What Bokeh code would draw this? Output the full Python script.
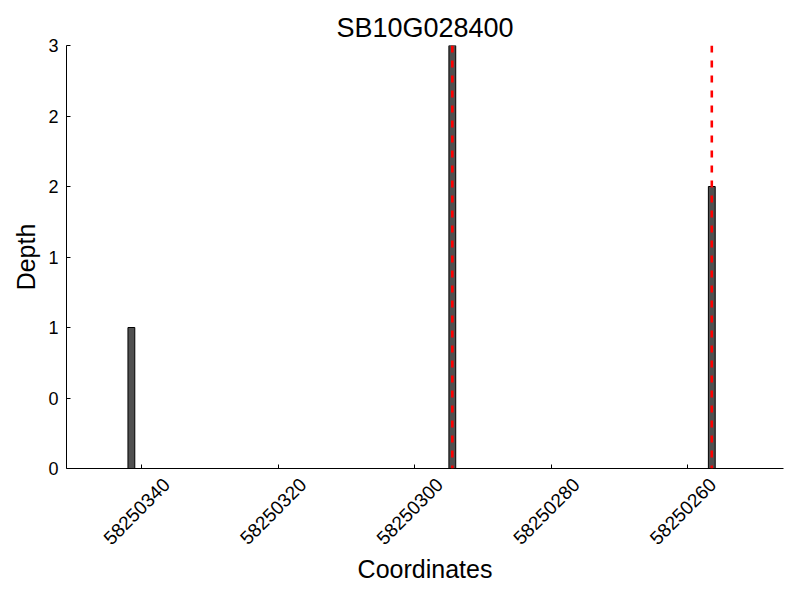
import math
from bokeh.plotting import figure
from bokeh.models import Range1d, FixedTicker, Span, LinearAxis
from bokeh.embed import file_html
from bokeh.resources import INLINE

# ---- data ----
title_text = "SB10G028400"
bar_starts = [58250341, 58250294, 58250256]
depths = [1, 3, 2]
snp_starts = [58250294, 58250256]
x_ticks = [58250340, 58250320, 58250300, 58250280, 58250260]
x_tick_labels = ["58250340", "58250320", "58250300", "58250280", "58250260"]
y_ticks = [0, 0.5, 1, 1.5, 2, 2.5, 3]
y_tick_labels = ["0", "0", "1", "1", "2", "2", "3"]
x_start, x_end = 58250351, 58250246
y_start, y_end = 0, 3
bar_width = 1

FONT = "Liberation Sans"
label_shift = 3.66  # horizontal shift (data units) of the rotated tick labels

p = figure(width=800, height=600, output_backend="svg", toolbar_location=None,
           x_range=Range1d(x_start, x_end), y_range=Range1d(y_start, y_end),
           min_border_left=66, min_border_right=17, min_border_top=45,
           min_border_bottom=132, title=title_text)

p.title.text_font = FONT
p.title.text_font_size = "27px"
p.title.text_font_style = "normal"
p.title.text_color = "black"
p.title.align = "center"
p.title.standoff = 6

p.outline_line_color = None
p.xgrid.visible = False
p.ygrid.visible = False
p.background_fill_color = "white"
p.border_fill_color = "white"

centers = [s + bar_width / 2 for s in bar_starts]
p.vbar(x=centers, top=depths, bottom=0, width=bar_width,
       fill_color="#505050", line_color="black", line_width=1)

for s in snp_starts:
    p.add_layout(Span(location=s + bar_width / 2, dimension="height",
                      line_color="red", line_width=2.6, line_dash="7 8"))

# x axis: ticks only
xa = p.xaxis[0]
xa.ticker = FixedTicker(ticks=x_ticks)
xa.major_label_overrides = {t: "" for t in x_ticks}
xa.major_label_standoff = 0
xa.major_label_text_font_size = "1px"
xa.minor_tick_line_color = None
xa.major_tick_in = 4
xa.major_tick_out = 0
xa.axis_line_color = "black"

# rotated tick labels on a shifted helper axis
p.extra_x_ranges = {"lab": Range1d(x_start + label_shift, x_end + label_shift)}
lab_axis = LinearAxis(x_range_name="lab", ticker=FixedTicker(ticks=x_ticks),
                      major_label_overrides={t: l for t, l in zip(x_ticks, x_tick_labels)},
                      major_label_orientation=math.pi / 4,
                      major_label_standoff=7,
                      major_label_text_font=FONT, major_label_text_font_size="19px",
                      major_label_text_color="black",
                      axis_line_color=None, major_tick_line_color=None,
                      minor_tick_line_color=None,
                      axis_label="Coordinates", axis_label_text_font=FONT,
                      axis_label_text_font_size="25px",
                      axis_label_text_font_style="normal",
                      axis_label_text_color="black",
                      axis_label_standoff=2)
p.add_layout(lab_axis, "below")

# y axis
ya = p.yaxis[0]
ya.ticker = FixedTicker(ticks=y_ticks)
ya.major_label_overrides = {t: l for t, l in zip(y_ticks, y_tick_labels)}
ya.minor_tick_line_color = None
ya.major_tick_in = 4
ya.major_tick_out = 0
ya.major_label_standoff = 8
ya.major_label_text_font = FONT
ya.major_label_text_font_size = "18px"
ya.major_label_text_color = "black"
ya.axis_label = "Depth"
ya.axis_label_text_font = FONT
ya.axis_label_text_font_size = "25px"
ya.axis_label_text_font_style = "normal"
ya.axis_label_text_color = "black"
ya.axis_label_standoff = 5
ya.axis_line_color = "black"

open("out.html", "w").write(file_html(p, INLINE))
